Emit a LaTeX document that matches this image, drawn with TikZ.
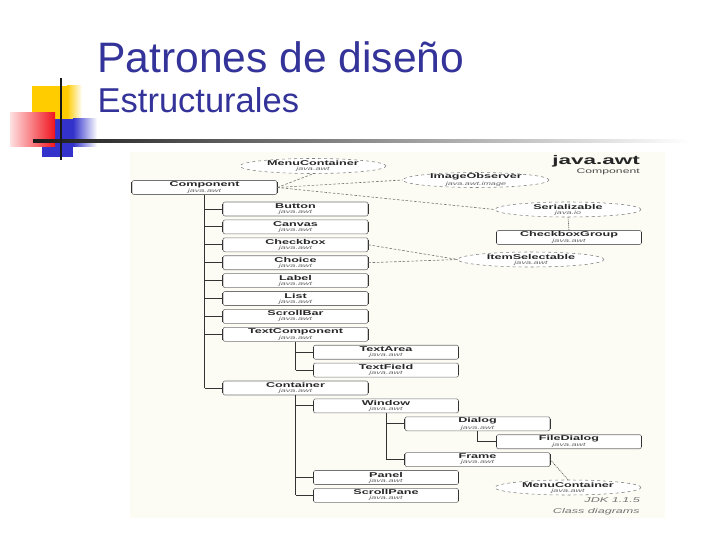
\documentclass[tikz,border=0pt]{standalone}
\usepackage{fontspec}
\setmainfont{Liberation Sans}
\newfontfamily\clsfont{Liberation Sans}[FakeStretch=1.8]
\usetikzlibrary{shapes.geometric}
\definecolor{titleblue}{RGB}{51,51,153}
\definecolor{cream}{RGB}{252,252,244}
\definecolor{sqyellow}{RGB}{255,204,0}
\definecolor{sqred}{RGB}{240,20,30}
\definecolor{sqblue}{RGB}{51,51,204}
\newcommand\cname[2][java.awt]{\vbox{\offinterlineskip\halign{\hfil##\hfil\cr
  {\clsfont\bfseries\fontsize{7}{7}\selectfont\color{black!85}#2}\cr
  \noalign{\kern1.3pt}
  {\clsfont\itshape\fontsize{5}{5}\selectfont\color{black!60}#1}\cr}}}
\begin{document}
\begin{tikzpicture}[x=1pt,y=-1pt,
  cls/.style={draw=black!55, line width=0.6pt, rounded corners=2pt, fill=white,
    minimum width=145pt, minimum height=14pt, inner sep=0pt},
  side/.style={draw=black!80, line width=1pt},
  iface/.style={draw=black!50, dashed, line width=0.55pt, ellipse, fill=white,
    minimum width=146pt, minimum height=15pt, inner sep=0pt},
  itext/.style={inner sep=0pt},
  tree/.style={draw=black!80, line width=0.85pt},
  dep/.style={draw=black!55, line width=0.6pt, dash pattern=on 2.5pt off 1.8pt},
  dotdep/.style={draw=black!70, line width=0.6pt, dash pattern=on 1pt off 1pt},
  deco/.style={inner sep=0pt, anchor=base east},
]
\useasboundingbox (0,0) rectangle (720,540);
\fill[white] (0,0) rectangle (720,540);

% ---- header decoration ----
\fill[sqyellow] (32,86) rectangle (67,119);
\shade[left color=sqyellow, right color=white] (67,86) rectangle (82,119);
\fill[sqblue] (42,119) rectangle (73,157);
\shade[left color=sqblue, right color=white] (73,119) rectangle (97,147);
\shade[left color=red!12, right color=sqred] (10,113) rectangle (55,147);
\shade[left color=black!90, right color=white] (33,140) rectangle (690,142.4);
\fill[black!90] (60,78) rectangle (62,160);

\node[anchor=base west, inner sep=0pt, text=titleblue, font=\fontsize{42.6}{48}\selectfont] (title) at (97,73) {Patrones de diseño};
\node[anchor=base west, inner sep=0pt, text=titleblue, font=\fontsize{34.5}{40}\selectfont] (subtitle) at (97.5,113) {Estructurales};

% ---- diagram background ----
\fill[cream] (130,152) rectangle (665,518);

\node[deco, font=\clsfont\bfseries\fontsize{12.5}{12.5}\selectfont, text=black!85] (pkg) at (640,165) {java.awt};
\node[deco, font=\clsfont\fontsize{6.8}{7}\selectfont, text=black!70] (pkgsub) at (640,173.5) {Component};
\node[deco, font=\clsfont\itshape\fontsize{7}{7}\selectfont, text=black!55] (jdk) at (640,502.5) {JDK 1.1.5};
\node[deco, font=\clsfont\itshape\fontsize{7}{7}\selectfont, text=black!55] (cd) at (640,513) {Class diagrams};

% ---- interfaces ----
\node[iface] (mc1) at (313,166) {};
\node[itext] (mc1t) at (mc1) {\cname{MenuContainer}};
\node[iface] (io) at (476,180) {};
\node[itext] (iot) at (io) {\cname[java.awt.image]{ImageObserver}};
\node[iface] (ser) at (568,209.5) {};
\node[itext] (sert) at (ser) {\cname[java.io]{Serializable}};
\node[iface] (isel) at (531,259.5) {};
\node[itext] (iselt) at (isel) {\cname{ItemSelectable}};
\node[iface] (mc2) at (568,487.5) {};
\node[itext] (mc2t) at (mc2) {\cname{MenuContainer}};

% ---- classes ----
\node[cls] (comp) at (204.5,187.5) {\cname{Component}};
\node[cls] (button) at (295.5,209) {\cname{Button}};
\node[cls] (canvas) at (295.5,226.9) {\cname{Canvas}};
\node[cls] (checkbox) at (295.5,244.8) {\cname{Checkbox}};
\node[cls] (choice) at (295.5,262.7) {\cname{Choice}};
\node[cls] (label) at (295.5,280.6) {\cname{Label}};
\node[cls] (list) at (295.5,298.5) {\cname{List}};
\node[cls] (scrollbar) at (295.5,316.4) {\cname{ScrollBar}};
\node[cls] (textcomp) at (295.5,334.3) {\cname{TextComponent}};
\node[cls] (textarea) at (386,352.2) {\cname{TextArea}};
\node[cls] (textfield) at (386,370.1) {\cname{TextField}};
\node[cls] (container) at (295.5,388) {\cname{Container}};
\node[cls] (window) at (386,405.9) {\cname{Window}};
\node[cls] (dialog) at (477.5,423.8) {\cname{Dialog}};
\node[cls] (filedialog) at (569,441.7) {\cname{FileDialog}};
\node[cls] (frame) at (477.5,459.6) {\cname{Frame}};
\node[cls] (panel) at (386,477.5) {\cname{Panel}};
\node[cls] (scrollpane) at (386,495.4) {\cname{ScrollPane}};
\node[cls] (cbg) at (569,237.5) {\cname{CheckboxGroup}};

% darker side edges of the class boxes
\foreach \n in {comp,button,canvas,checkbox,choice,label,list,scrollbar,textcomp,textarea,textfield,container,window,dialog,filedialog,frame,panel,scrollpane,cbg}{
  \draw[side] ([yshift=-2pt]\n.north west) -- ([yshift=2pt]\n.south west);
  \draw[side] ([yshift=-2pt]\n.north east) -- ([yshift=2pt]\n.south east);
}

% ---- tree connectors ----
\draw[tree] (comp.south) -- (comp.south |- container.west);
\foreach \n in {button,canvas,checkbox,choice,label,list,scrollbar,textcomp,container}
  \draw[tree] (comp.south |- \n.west) -- (\n.west);
\draw[tree] (textcomp.south) -- (textcomp.south |- textfield.west);
\foreach \n in {textarea,textfield}
  \draw[tree] (textcomp.south |- \n.west) -- (\n.west);
\draw[tree] (container.south) -- (container.south |- scrollpane.west);
\foreach \n in {window,panel,scrollpane}
  \draw[tree] (container.south |- \n.west) -- (\n.west);
\draw[tree] (window.south) -- (window.south |- frame.west);
\foreach \n in {dialog,frame}
  \draw[tree] (window.south |- \n.west) -- (\n.west);
\draw[tree] (dialog.south) -- (dialog.south |- filedialog.west);
\draw[tree] (dialog.south |- filedialog.west) -- (filedialog.west);

% ---- dependency connectors ----
\draw[dep] (comp.east) -- (mc1.south);
\draw[dep] (comp.east) -- (io.west);
\draw[dep] (comp.east) -- (ser.west);
\draw[dep] (checkbox.east) -- (isel.west);
\draw[dep] (choice.east) -- (isel.west);
\draw[dotdep] (ser.south) -- (cbg.north);
\draw[dotdep] (frame.east) -- (mc2.north);
\end{tikzpicture}
\end{document}
